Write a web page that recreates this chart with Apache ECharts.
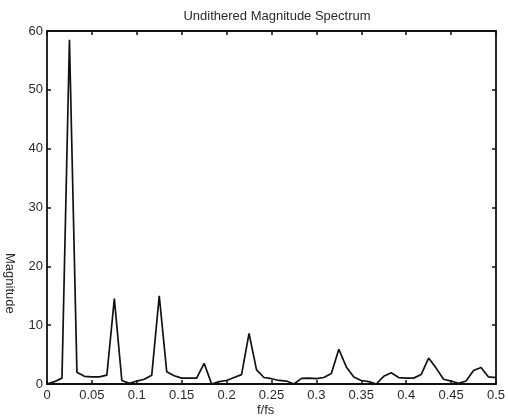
<!DOCTYPE html>
<html>
<head>
<meta charset="utf-8">
<script src="https://cdn.jsdelivr.net/npm/echarts@6/dist/echarts.min.js"></script>
<style>
html,body{margin:0;padding:0;background:#fff;}
#c{width:508px;height:418px;}
</style>
</head>
<body>
<div id="c"></div>
<script>
const titleText = "Undithered Magnitude Spectrum";
const xLabel = "f/fs";
const yLabel = "Magnitude";
const binCount = 120; // FFT bins; frequency of bin k is k/binCount
const magnitudes = [
  0, 0.4, 1.0, 58.5, 2.0, 1.3, 1.2, 1.2, 1.5, 14.5,
  0.6, 0.1, 0.5, 0.8, 1.5, 15.0, 2.1, 1.4, 1.0, 1.0,
  1.0, 3.5, 0, 0.4, 0.6, 1.1, 1.6, 8.6, 2.4, 1.1,
  0.9, 0.6, 0.5, 0, 0.95, 1.0, 0.9, 1.1, 1.8, 5.9,
  2.9, 1.2, 0.6, 0.4, 0, 1.3, 1.9, 1.1, 1.0, 1.0,
  1.6, 4.4, 2.7, 0.8, 0.5, 0.1, 0.5, 2.3, 2.8, 1.2,
  1.1
];
const xTicks = [0, 0.05, 0.1, 0.15, 0.2, 0.25, 0.3, 0.35, 0.4, 0.45, 0.5];
const yTicks = [0, 10, 20, 30, 40, 50, 60];

const points = magnitudes.map((v, k) => [k / binCount, v]);
const font = "'Liberation Sans', Arial, Helvetica, sans-serif";
const txt = '#2a2a2a';
const fs = 13;
const grid = {left: 47, right: 11, top: 31, bottom: 34};

const chart = echarts.init(document.getElementById('c'), null, {renderer: 'canvas'});
const axisCommon = {
  axisLine: {show: true, onZero: false, lineStyle: {color: '#111', width: 1.8}},
  axisTick: {show: true, inside: true, length: 4, lineStyle: {color: '#111', width: 1.5}},
  splitLine: {show: false}
};
chart.setOption({
  backgroundColor: '#fff',
  animation: false,
  title: {
    text: titleText, left: 272, top: 5, textAlign: 'center',
    textStyle: {fontFamily: font, fontSize: fs, fontWeight: 'normal', color: txt}
  },
  grid: grid,
  xAxis: [
    Object.assign({
      type: 'value', position: 'bottom', min: xTicks[0], max: xTicks[xTicks.length - 1], interval: 0.05,
      axisLabel: {fontFamily: font, fontSize: fs, color: txt, margin: 5,
        formatter: v => { const r = Math.round(v * 100) / 100; return String(r); }}
    }, axisCommon),
    Object.assign({
      type: 'value', position: 'top', min: xTicks[0], max: xTicks[xTicks.length - 1], interval: 0.05,
      axisLabel: {show: false}
    }, axisCommon)
  ],
  yAxis: [
    Object.assign({
      type: 'value', position: 'left', min: yTicks[0], max: yTicks[yTicks.length - 1], interval: 10,
      axisLabel: {fontFamily: font, fontSize: fs, color: txt, margin: 4}
    }, axisCommon),
    Object.assign({
      type: 'value', position: 'right', min: yTicks[0], max: yTicks[yTicks.length - 1], interval: 10,
      axisLabel: {show: false}
    }, axisCommon)
  ],
  graphic: [
    {type: 'text', left: 257, top: 404,
      style: {text: xLabel, font: fs + 'px ' + font, fill: txt}},
    {type: 'text', x: 3, y: 253, rotation: -Math.PI / 2,
      style: {text: yLabel, font: fs + 'px ' + font, fill: txt, textAlign: 'left', textVerticalAlign: 'bottom'}}
  ],
  series: [{
    type: 'line', data: points, xAxisIndex: 0, yAxisIndex: 0,
    showSymbol: false, symbol: 'none',
    lineStyle: {color: '#111', width: 1.7},
    silent: true
  }]
});
</script>
</body>
</html>
